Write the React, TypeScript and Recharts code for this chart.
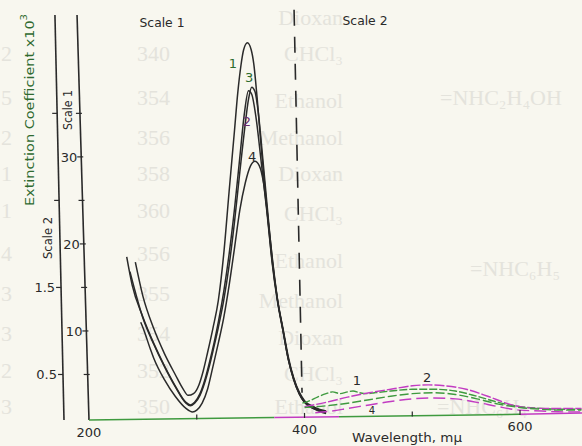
import React from 'react';
import { LineChart, Line, XAxis, YAxis, ReferenceLine, ReferenceDot } from 'recharts';

// main band, scale 1 (extinction x10^3), wavelength in mµ
const band1Nm = [243, 250, 260, 270, 280, 287, 292, 297, 302, 306, 310, 315, 320, 325, 330, 335, 338, 341, 343.5, 347, 350.5, 353, 356, 360, 365, 370, 375, 380, 385, 390, 395, 400, 410, 420];
const band1Eps = [17.9, 14.0, 10.3, 7.4, 5.0, 3.4, 2.6, 2.8, 3.8, 5.4, 7.5, 10.3, 13.5, 18.8, 26.0, 33.0, 37.3, 40.5, 42.3, 43.1, 42.3, 40.6, 36.8, 30.8, 24.2, 18.0, 13.5, 10.3, 7.0, 4.6, 3.0, 2.0, 1.2, 0.8];

const band2Nm = [235, 240, 250, 260, 270, 280, 290, 294, 298, 303, 308, 312, 316, 320, 325, 330, 335, 340, 344, 348, 351, 355, 360, 365, 370, 375, 380, 385, 390, 395, 400, 410, 420];
const band2Eps = [18.5, 15.3, 11.6, 8.6, 6.0, 3.7, 1.8, 1.5, 1.8, 2.8, 4.6, 6.5, 8.6, 11.0, 14.5, 18.8, 24.0, 30.0, 34.8, 37.6, 37.2, 34.5, 29.2, 23.8, 17.8, 13.3, 10.0, 6.7, 4.4, 2.8, 1.8, 1.0, 0.6];

const band3Nm = [238, 250, 260, 270, 280, 290, 294, 298, 303, 308, 312, 316, 320, 325, 330, 335, 340, 345, 348, 351, 354, 357, 360, 365, 370, 375, 380, 385, 390, 395, 400, 410, 420];
const band3Eps = [16.8, 11.5, 8.5, 5.9, 3.6, 1.7, 1.4, 1.7, 2.6, 4.3, 6.1, 8.2, 10.4, 13.5, 17.5, 22.5, 28.3, 33.8, 36.6, 38.0, 37.5, 35.2, 31.5, 24.8, 18.3, 13.5, 10.1, 6.8, 4.5, 2.9, 1.9, 1.1, 0.7];

const band4Nm = [248, 250, 257, 260, 270, 280, 290, 296, 300, 305, 310, 315, 320, 325, 330, 335, 340, 345, 350, 354, 358, 362, 366, 370, 375, 380, 385, 390, 395, 400, 410, 420];
const band4Eps = [11.0, 10.4, 7.9, 6.9, 4.4, 2.5, 1.1, 0.7, 0.9, 1.7, 3.3, 5.9, 8.6, 11.5, 15.2, 19.5, 23.9, 27.0, 29.0, 29.5, 29.0, 27.0, 23.0, 18.5, 13.6, 10.1, 6.7, 4.4, 2.8, 1.8, 1.0, 0.5];

// weak band past 400 mµ, scale 2
const weak1Nm = [398, 405, 412, 420, 426, 433, 440, 445, 451, 458, 465, 480, 500, 520, 540, 560, 580, 600, 620, 640, 657];
const weak1Eps = [0.17, 0.2, 0.24, 0.28, 0.3, 0.28, 0.3, 0.31, 0.29, 0.28, 0.29, 0.31, 0.33, 0.33, 0.31, 0.25, 0.18, 0.13, 0.11, 0.1, 0.1];

const weak2Nm = [400, 420, 440, 460, 480, 500, 515, 530, 550, 570, 590, 600, 620, 640, 657];
const weak2Eps = [0.13, 0.18, 0.24, 0.29, 0.33, 0.37, 0.38, 0.37, 0.33, 0.25, 0.16, 0.13, 0.11, 0.11, 0.11];

const weak3Nm = [400, 420, 440, 460, 480, 500, 520, 540, 560, 580, 600, 620, 640, 657];
const weak3Eps = [0.12, 0.14, 0.17, 0.21, 0.25, 0.28, 0.29, 0.27, 0.22, 0.16, 0.12, 0.1, 0.09, 0.09];

const weak4Nm = [410, 425, 440, 460, 480, 500, 520, 540, 560, 580, 600, 620, 640, 657];
const weak4Eps = [0.06, 0.08, 0.11, 0.15, 0.19, 0.22, 0.23, 0.22, 0.18, 0.13, 0.09, 0.08, 0.07, 0.07];

const xTicks = [200, 300, 400, 500, 600];
const xLabels = ['200', '', '400', '', '600'];
const scale1Ticks = [5, 10, 15, 20, 25, 30, 35];
const scale1Labels = ['', '10', '', '20', '', '30', ''];
const scale2Ticks = [0.5, 1.5, 2.5, 3.5];
const scale2Labels = ['0.5', '1.5', '', ''];

// faint print showing through from the page underneath
const ghostSolvents = ['Dioxan', 'CHCl₃', 'Ethanol', 'Methanol', 'Dioxan', 'CHCl₃', 'Ethanol', 'Methanol', 'Dioxan', 'CHCl₃', 'Ethanol'];
const ghostSolventY = [17, 53, 100, 137, 173, 213, 260, 300, 337, 373, 406];
const ghostLambda = ['340', '354', '356', '358', '360', '356', '355', '354', '352', '350'];
const ghostLambdaY = [53, 97, 137, 173, 210, 253, 293, 333, 370, 406];
const ghostDigits = ['2', '5', '2', '1', '1', '4', '3', '3', '2', '3'];
const ghostFormulas = ['=NHC₂H₄OH', '=NHC₆H₅', '=NHC₆H₄'];
const ghostFormulaX = [440, 470, 437];
const ghostFormulaY = [97, 268, 406];

const zip = (nm: number[], eps: number[]) => nm.map((w, i) => ({ nm: w, eps: eps[i] }));

const INK = '#2a2a2a';
const GREEN = '#3f9a3f';
const MAGENTA = '#c23cc2';
const GHOST = '#e4e3dc';

// the scan is a little skewed, so the axes lean
const s1X = (y: number) => 77 + ((y - 15) * 12) / 403;
const s2X = (y: number) => 55 + ((y - 15) * 9) / 403;
const baseY = (x: number) => 420 - ((x - 89) * 7) / 493;

const Scale1Tick = (props: any) => {
  const { y, index } = props;
  const x = s1X(y);
  return (
    <g>
      <line x1={x - 4} x2={x + 2} y1={y} y2={y} stroke={INK} strokeWidth={1.2} />
      <text x={x - 4} y={y + 5} textAnchor="end" fontSize={13} fill={INK}>
        {scale1Labels[index]}
      </text>
    </g>
  );
};

const Scale2Tick = (props: any) => {
  const { y, index } = props;
  const x = s2X(y);
  return (
    <g>
      <line x1={x - 5} x2={x} y1={y} y2={y} stroke={INK} strokeWidth={1.2} />
      <text x={x - 6} y={y + 5} textAnchor="end" fontSize={13} fill={INK}>
        {scale2Labels[index]}
      </text>
    </g>
  );
};

const XTick = (props: any) => {
  const { x, index } = props;
  const y = baseY(x);
  return (
    <g>
      {index > 0 && <line x1={x} x2={x} y1={y - 4} y2={y + 1} stroke={INK} strokeWidth={1.2} />}
      <text x={x} y={y + 17} textAnchor="middle" fontSize={13} fill={INK}>
        {xLabels[index]}
      </text>
    </g>
  );
};

const curveLabel = (value: string, fill: string, size = 13) => ({
  value,
  position: 'center' as const,
  fill,
  fontSize: size,
});

export default function App() {
  return (
    <div
      style={{
        position: 'absolute',
        left: 0,
        top: 0,
        width: 582,
        height: 446,
        background: '#f8f7ef',
        fontFamily: 'DejaVu Sans, sans-serif',
        overflow: 'hidden',
      }}
    >
      <svg width={582} height={446} style={{ position: 'absolute', left: 0, top: 0 }}
        fontFamily="Liberation Serif, serif" fontSize={22} fill={GHOST}>
        {ghostSolvents.map((s, i) => (
          <text key={'s' + i} x={343} y={ghostSolventY[i] + 8} textAnchor="end">{s}</text>
        ))}
        {ghostLambda.map((s, i) => (
          <text key={'l' + i} x={137} y={ghostLambdaY[i] + 8}>{s}</text>
        ))}
        {ghostDigits.map((s, i) => (
          <text key={'d' + i} x={1} y={ghostLambdaY[i] + 8}>{s}</text>
        ))}
        {ghostFormulas.map((s, i) => (
          <text key={'f' + i} x={ghostFormulaX[i]} y={ghostFormulaY[i] + 8}>{s}</text>
        ))}
      </svg>

      <LineChart width={582} height={446} margin={{ top: 15, right: 0, bottom: 0, left: 0 }}>
        <XAxis
          type="number"
          dataKey="nm"
          domain={[200, 657.5]}
          ticks={xTicks}
          allowDataOverflow
          axisLine={false}
          tickLine={false}
          tickSize={0}
          tickMargin={0}
          height={28}
          tick={(p: any) => <XTick {...p} />}
        />
        <YAxis
          yAxisId="s1"
          type="number"
          domain={[0, 46.3]}
          ticks={scale1Ticks}
          allowDataOverflow
          axisLine={false}
          tickLine={false}
          width={45}
          tick={(p: any) => <Scale1Tick {...p} />}
        />
        <YAxis
          yAxisId="s2"
          type="number"
          domain={[0, 4.63]}
          ticks={scale2Ticks}
          allowDataOverflow
          axisLine={false}
          tickLine={false}
          width={44}
          tick={(p: any) => <Scale2Tick {...p} />}
        />

        {/* leaning axis lines */}
        <ReferenceLine yAxisId="s1" ifOverflow="visible" stroke={INK} strokeWidth={1.6}
          segment={[{ x: 188.9, y: 46.3 }, { x: 200, y: -0.23 }]} />
        <ReferenceLine yAxisId="s1" ifOverflow="visible" stroke={INK} strokeWidth={1.6}
          segment={[{ x: 168.4, y: 46.3 }, { x: 176.8, y: -0.23 }]} />
        <ReferenceLine yAxisId="s1" ifOverflow="visible" stroke={GREEN} strokeWidth={1.5}
          segment={[{ x: 200, y: -0.23 }, { x: 372, y: 0.05 }]} />
        <ReferenceLine yAxisId="s1" ifOverflow="visible" stroke={MAGENTA} strokeWidth={1.5}
          segment={[{ x: 372, y: 0.05 }, { x: 432, y: 0.15 }]} />
        <ReferenceLine yAxisId="s1" ifOverflow="visible" stroke={GREEN} strokeWidth={1.5}
          segment={[{ x: 432, y: 0.15 }, { x: 600, y: 0.42 }]} />
        <ReferenceLine yAxisId="s1" ifOverflow="visible" stroke={MAGENTA} strokeWidth={1.5}
          segment={[{ x: 600, y: 0.42 }, { x: 657.5, y: 0.57 }]} />

        {/* scale change at 400 mµ */}
        <ReferenceLine yAxisId="s1" ifOverflow="visible" stroke={INK} strokeWidth={1.6}
          strokeDasharray="16 11" segment={[{ x: 390.3, y: 46.9 }, { x: 397.7, y: 2.9 }]} />

        <Line data={zip(band1Nm, band1Eps)} dataKey="eps" yAxisId="s1" type="monotone" dot={false}
          stroke={INK} strokeWidth={1.5} isAnimationActive={false} />
        <Line data={zip(band2Nm, band2Eps)} dataKey="eps" yAxisId="s1" type="monotone" dot={false}
          stroke={INK} strokeWidth={1.5} isAnimationActive={false} />
        <Line data={zip(band3Nm, band3Eps)} dataKey="eps" yAxisId="s1" type="monotone" dot={false}
          stroke={INK} strokeWidth={1.5} isAnimationActive={false} />
        <Line data={zip(band4Nm, band4Eps)} dataKey="eps" yAxisId="s1" type="monotone" dot={false}
          stroke={INK} strokeWidth={1.5} isAnimationActive={false} />

        <Line data={zip(weak1Nm, weak1Eps)} dataKey="eps" yAxisId="s2" type="monotone" dot={false}
          stroke={GREEN} strokeWidth={1.4} strokeDasharray="8 2" isAnimationActive={false} />
        <Line data={zip(weak2Nm, weak2Eps)} dataKey="eps" yAxisId="s2" type="monotone" dot={false}
          stroke={MAGENTA} strokeWidth={1.4} strokeDasharray="10 2" isAnimationActive={false} />
        <Line data={zip(weak3Nm, weak3Eps)} dataKey="eps" yAxisId="s2" type="monotone" dot={false}
          stroke={GREEN} strokeWidth={1.4} strokeDasharray="9 3" isAnimationActive={false} />
        <Line data={zip(weak4Nm, weak4Eps)} dataKey="eps" yAxisId="s2" type="monotone" dot={false}
          stroke={MAGENTA} strokeWidth={1.4} strokeDasharray="12 5" isAnimationActive={false} />

        <ReferenceDot yAxisId="s1" x={333.6} y={40.7} r={0} fill="none" stroke="none" label={curveLabel('1', '#2d6b2d')} />
        <ReferenceDot yAxisId="s1" x={348.5} y={39.1} r={0} fill="none" stroke="none" label={curveLabel('3', '#2d6b2d')} />
        <ReferenceDot yAxisId="s1" x={346.6} y={34.1} r={0} fill="none" stroke="none" label={curveLabel('2', '#6a2a6a')} />
        <ReferenceDot yAxisId="s1" x={351.3} y={30.1} r={0} fill="none" stroke="none" label={curveLabel('4', INK)} />
        <ReferenceDot yAxisId="s2" x={448.7} y={0.43} r={0} fill="none" stroke="none" label={curveLabel('1', INK)} />
        <ReferenceDot yAxisId="s2" x={513.7} y={0.47} r={0} fill="none" stroke="none" label={curveLabel('2', INK)} />
        <ReferenceDot yAxisId="s2" x={462.6} y={0.09} r={0} fill="none" stroke="none" label={curveLabel('4', INK, 10)} />
      </LineChart>

      <svg width={582} height={446} style={{ position: 'absolute', left: 0, top: 0, pointerEvents: 'none' }}>
        <text transform="translate(29,110) rotate(-90)" textAnchor="middle" dominantBaseline="central"
          fontSize={13} fill="#2f6a2f" textLength={192} lengthAdjust="spacingAndGlyphs">
          Extinction Coefficient x10<tspan dy={-5} fontSize={9}>3</tspan>
        </text>
        <text transform="translate(68,110) rotate(-90)" textAnchor="middle" dominantBaseline="central"
          fontSize={12} fill={INK} textLength={40} lengthAdjust="spacingAndGlyphs">Scale 1</text>
        <text transform="translate(48,238) rotate(-90)" textAnchor="middle" dominantBaseline="central"
          fontSize={12} fill={INK} textLength={42} lengthAdjust="spacingAndGlyphs">Scale 2</text>
        <text x={162} y={27} textAnchor="middle" fontSize={12} fill={INK}
          textLength={45} lengthAdjust="spacingAndGlyphs">Scale 1</text>
        <text x={365} y={25} textAnchor="middle" fontSize={12} fill={INK}
          textLength={45} lengthAdjust="spacingAndGlyphs">Scale 2</text>
        <text x={407} y={442} textAnchor="middle" fontSize={13} fill={INK}
          textLength={110} lengthAdjust="spacingAndGlyphs">Wavelength, mµ</text>
      </svg>
    </div>
  );
}
